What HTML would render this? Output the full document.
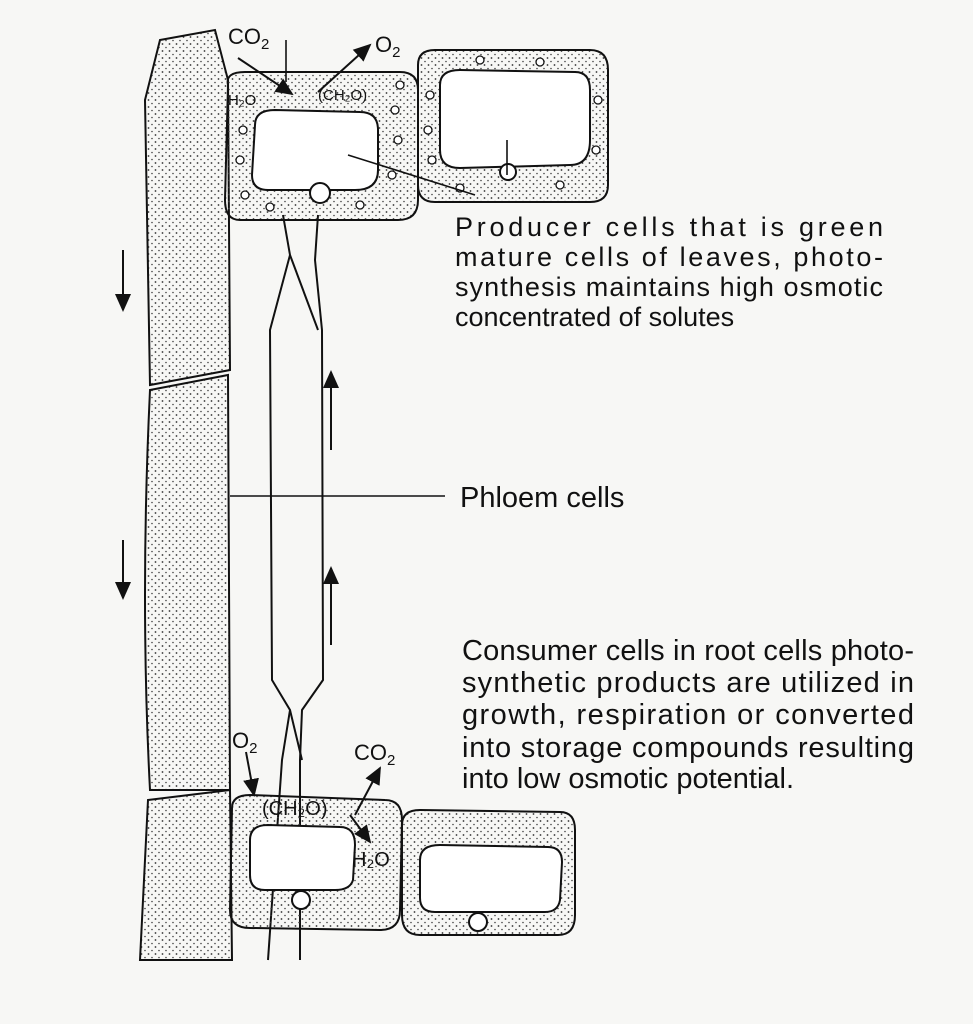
<!DOCTYPE html>
<html><head><meta charset="utf-8"><style>
html,body{margin:0;padding:0;background:#f7f7f5;}
svg{display:block}
text{font-family:"Liberation Sans",sans-serif;fill:#111}
</style></head><body>
<svg width="973" height="1024" viewBox="0 0 973 1024" xmlns="http://www.w3.org/2000/svg">
<defs>
<pattern id="dots" width="7" height="7" patternUnits="userSpaceOnUse">
<circle cx="1.5" cy="2" r="0.9" fill="#333"/><circle cx="5" cy="5.5" r="0.8" fill="#444"/>
</pattern>
<marker id="ah" markerWidth="10" markerHeight="10" refX="8" refY="5" orient="auto"><path d="M0,1 L9,5 L0,9 Z" fill="#111"/></marker>
</defs>
<rect width="973" height="1024" fill="#f7f7f5"/>
<g stroke="#111" stroke-width="2" fill="url(#dots)">
<path d="M160,40 L215,30 L228,80 L230,370 L150,385 L145,100 Z"/>
<path d="M150,390 L228,375 L230,790 L150,790 Q140,600 150,390 Z"/>
<path d="M148,800 L230,790 L232,960 L140,960 Z"/>
</g>
<g stroke="#111" stroke-width="2" fill="none">
<path d="M283,215 L290,255 L270,330 L272,680 L290,710 L282,760 L268,960"/>
<path d="M318,215 L315,260 L322,330 L323,680 L302,710 L300,760 L300,960"/>
<path d="M290,255 L318,330"/><path d="M290,710 L302,760"/>
</g>
<g stroke="#111" stroke-width="2">
<path d="M228,85 Q225,72 245,72 L400,72 Q418,72 418,90 L418,200 Q418,220 398,220 L240,220 Q225,220 225,200 Z" fill="url(#dots)"/>
<path d="M418,65 Q418,50 435,50 L590,50 Q608,50 608,70 L608,185 Q608,202 590,202 L435,202 Q418,202 418,185 Z" fill="url(#dots)"/>
<path d="M255,125 Q255,110 275,110 L360,112 Q378,112 378,130 L378,170 Q378,190 355,190 L268,190 Q252,190 252,175 Z" fill="#fff"/>
<path d="M440,85 Q440,70 460,70 L575,72 Q590,72 590,90 L590,140 Q590,165 570,165 L460,168 Q440,168 440,150 Z" fill="#fff"/>
<circle cx="320" cy="193" r="10" fill="#fff"/>
<circle cx="508" cy="172" r="8" fill="#fff"/>
</g>
<g stroke="#111" stroke-width="1.3" fill="#fff">
<circle cx="243" cy="130" r="4"/><circle cx="240" cy="160" r="4"/><circle cx="245" cy="195" r="4"/><circle cx="395" cy="110" r="4"/><circle cx="398" cy="140" r="4"/><circle cx="392" cy="175" r="4"/><circle cx="360" cy="205" r="4"/><circle cx="270" cy="207" r="4"/>
<circle cx="430" cy="95" r="4"/><circle cx="428" cy="130" r="4"/><circle cx="432" cy="160" r="4"/><circle cx="480" cy="60" r="4"/><circle cx="540" cy="62" r="4"/><circle cx="598" cy="100" r="4"/><circle cx="596" cy="150" r="4"/><circle cx="560" cy="185" r="4"/><circle cx="460" cy="188" r="4"/><circle cx="400" cy="85" r="4"/>
</g>
<g stroke="#111" stroke-width="2">
<path d="M232,808 Q232,795 250,795 L385,800 Q402,800 402,820 L400,910 Q400,930 380,930 L250,928 Q230,928 230,910 Z" fill="url(#dots)"/>
<path d="M402,825 Q402,810 420,810 L560,812 Q575,812 575,830 L575,915 Q575,935 558,935 L420,935 Q402,935 402,915 Z" fill="url(#dots)"/>
<path d="M250,840 Q250,825 268,825 L340,827 Q355,827 355,845 L353,880 Q350,890 335,890 L265,890 Q250,890 250,875 Z" fill="#fff"/>
<path d="M420,860 Q420,845 440,845 L548,847 Q562,847 562,862 L560,900 Q558,912 545,912 L435,912 Q420,912 420,898 Z" fill="#fff"/>
<circle cx="301" cy="900" r="9" fill="#fff"/>
<circle cx="478" cy="922" r="9" fill="#fff"/>
</g>
<g stroke="#111" stroke-width="2" fill="none" marker-end="url(#ah)">
<line x1="123" y1="250" x2="123" y2="310"/>
<line x1="123" y1="540" x2="123" y2="598"/>
<line x1="331" y1="450" x2="331" y2="372"/>
<line x1="331" y1="645" x2="331" y2="568"/>
<line x1="238" y1="58" x2="292" y2="94"/>
<line x1="318" y1="92" x2="370" y2="45"/>
<line x1="246" y1="752" x2="254" y2="795"/>
<line x1="355" y1="815" x2="380" y2="768"/>
<line x1="350" y1="815" x2="370" y2="842"/>
</g>
<g stroke="#111" stroke-width="1.6">
<line x1="286" y1="40" x2="286" y2="82"/>
<line x1="348" y1="155" x2="475" y2="195"/>
<line x1="507" y1="140" x2="507" y2="175"/>
<line x1="230" y1="496" x2="445" y2="496"/>
</g>
<text x="228" y="44" font-size="22">CO<tspan font-size="15" dy="5">2</tspan></text>
<text x="375" y="52" font-size="22">O<tspan font-size="15" dy="5">2</tspan></text>
<text x="228" y="105" font-size="15">H₂O</text>
<text x="318" y="100" font-size="15">(CH₂O)</text>
<text x="232" y="748" font-size="22">O<tspan font-size="15" dy="5">2</tspan></text>
<text x="354" y="760" font-size="22">CO<tspan font-size="15" dy="5">2</tspan></text>
<text x="262" y="815" font-size="20">(CH₂O)</text>
<text x="352" y="866" font-size="20">H₂O</text>
<g font-size="27">
<text x="455" y="236" textLength="428" lengthAdjust="spacing">Producer  cells that is green</text>
<text x="455" y="266" textLength="428" lengthAdjust="spacing">mature cells of leaves, photo-</text>
<text x="455" y="296" textLength="428" lengthAdjust="spacing">synthesis maintains high osmotic</text>
<text x="455" y="326">concentrated of solutes</text>
</g>
<text x="460" y="507" font-size="29">Phloem cells</text>
<g font-size="29">
<text x="462" y="660" textLength="452" lengthAdjust="spacing">Consumer cells in root cells photo-</text>
<text x="462" y="692" textLength="452" lengthAdjust="spacing">synthetic products are utilized in</text>
<text x="462" y="724" textLength="452" lengthAdjust="spacing">growth, respiration or converted</text>
<text x="462" y="757" textLength="452" lengthAdjust="spacing">into storage compounds resulting</text>
<text x="462" y="788">into low osmotic potential.</text>
</g>
</svg>
</body></html>
